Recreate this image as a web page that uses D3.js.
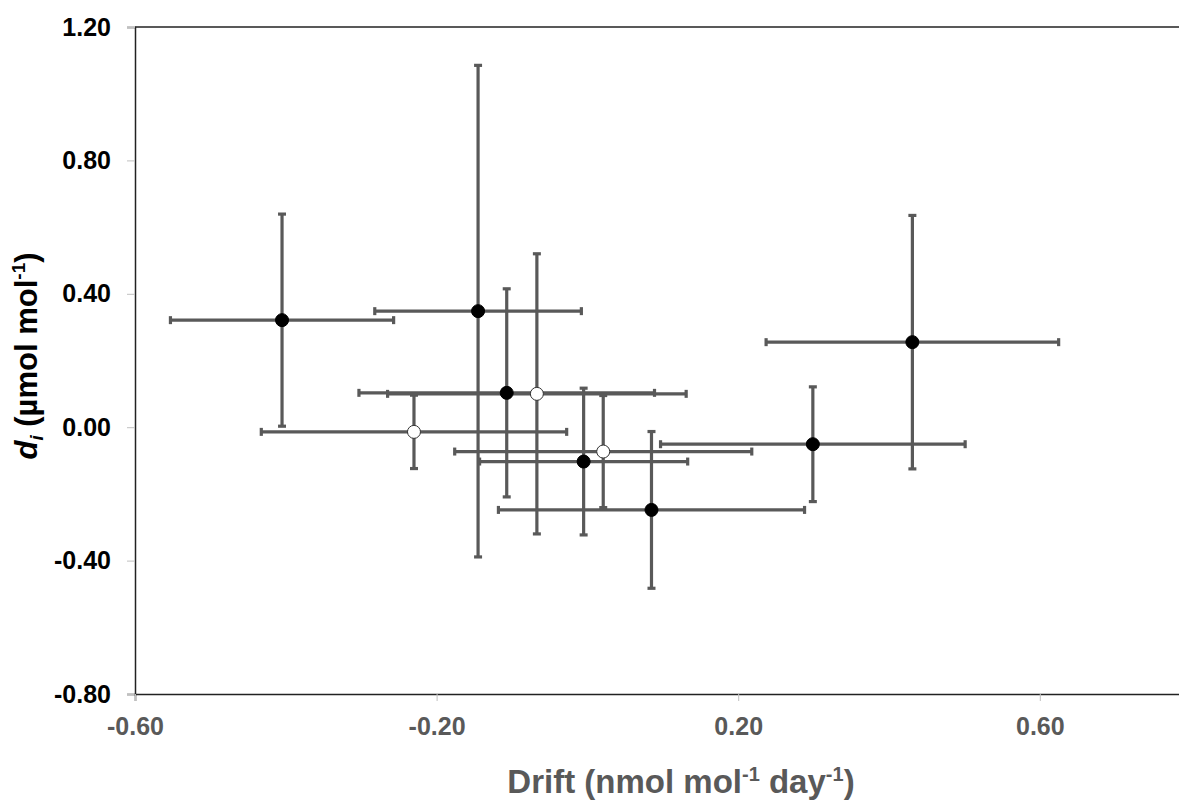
<!DOCTYPE html>
<html lang="en">
<head>
<meta charset="utf-8">
<style>
  body { margin: 0; background: #fff; }
  svg { display: block; font-family: "Liberation Sans", Arial, sans-serif; }
</style>
</head>
<body>
<script src="https://cdn.jsdelivr.net/npm/d3@7"></script>
<script>

// drift (x) and d_i (y) with their uncertainties
var filledDrift = [-0.405, -0.145, -0.107, -0.005, 0.085, 0.299, 0.431];
var filledDriftErr = [0.148, 0.137, 0.196, 0.138, 0.203, 0.202, 0.194];
var filledDi = [0.321, 0.348, 0.103, -0.103, -0.248, -0.051, 0.255];
var filledDiErr = [0.318, 0.737, 0.312, 0.220, 0.235, 0.172, 0.38];

var openDrift = [-0.230, -0.067, 0.021];
var openDriftErr = [0.2025, 0.198, 0.197];
var openDi = [-0.014, 0.100, -0.073];
var openDiErr = [0.110, 0.420, 0.168];

var xTicks = [-0.6, -0.2, 0.2, 0.6];
var yTicks = [-0.8, -0.4, 0.0, 0.4, 0.8, 1.2];

var W = 1179, H = 801;
var margin = {top: 27, left: 135, bottom: 107};

var svg = d3.select("body").append("svg")
  .attr("width", W)
  .attr("height", H);

var x = d3.scaleLinear().domain([-0.6, 0.8]).range([margin.left, margin.left + 1.4 * 754]);
var y = d3.scaleLinear().domain([-0.8, 1.2]).range([H - margin.bottom, margin.top]);

// plain hyphen for negatives, like the original
var fmt = function(d) { return d.toFixed(2); };

var points = [];
filledDrift.forEach(function(d, i) {
  points.push({x: d, xe: filledDriftErr[i], y: filledDi[i], ye: filledDiErr[i], open: false});
});
openDrift.forEach(function(d, i) {
  points.push({x: d, xe: openDriftErr[i], y: openDi[i], ye: openDiErr[i], open: true});
});

// axes
var yAxis = svg.append("g")
  .attr("transform", "translate(" + margin.left + ",0)")
  .call(d3.axisLeft(y).tickValues(yTicks).tickSize(8).tickPadding(16).tickFormat(fmt));
yAxis.select(".domain").attr("stroke", "#222").attr("stroke-width", 1.5);
yAxis.selectAll(".tick line").attr("stroke", "#c0c0c0");
yAxis.selectAll(".tick text")
  .attr("font-size", 25).attr("font-weight", "bold").attr("fill", "#000")
  .attr("font-family", "Liberation Sans, Arial, sans-serif");

var xAxis = svg.append("g")
  .attr("transform", "translate(0," + (H - margin.bottom) + ")")
  .call(d3.axisBottom(x).tickValues(xTicks).tickSize(7).tickPadding(16).tickFormat(fmt));
xAxis.select(".domain").attr("stroke", "#222").attr("stroke-width", 1.5);
xAxis.selectAll(".tick line").attr("stroke", "#c0c0c0");
xAxis.selectAll(".tick text")
  .attr("font-size", 25).attr("font-weight", "bold").attr("fill", "#595959")
  .attr("font-family", "Liberation Sans, Arial, sans-serif");

// top frame line
svg.append("line")
  .attr("x1", margin.left).attr("x2", x(0.8))
  .attr("y1", y(1.2)).attr("y2", y(1.2))
  .attr("stroke", "#222").attr("stroke-width", 1.5);

// error bars
var bars = svg.append("g")
  .attr("stroke", "#595959")
  .attr("stroke-width", 3.2);

var cap = 4;
points.forEach(function(p) {
  var g = bars.append("g");
  g.append("line")
    .attr("x1", x(p.x - p.xe)).attr("x2", x(p.x + p.xe))
    .attr("y1", y(p.y)).attr("y2", y(p.y));
  g.append("line")
    .attr("x1", x(p.x)).attr("x2", x(p.x))
    .attr("y1", y(p.y - p.ye)).attr("y2", y(p.y + p.ye));
  [p.x - p.xe, p.x + p.xe].forEach(function(v) {
    g.append("line")
      .attr("x1", x(v)).attr("x2", x(v))
      .attr("y1", y(p.y) - cap).attr("y2", y(p.y) + cap);
  });
  [p.y - p.ye, p.y + p.ye].forEach(function(v) {
    g.append("line")
      .attr("x1", x(p.x) - cap).attr("x2", x(p.x) + cap)
      .attr("y1", y(v)).attr("y2", y(v));
  });
});

// markers
svg.append("g").selectAll("circle")
  .data(points)
  .enter().append("circle")
  .attr("cx", function(d) { return x(d.x); })
  .attr("cy", function(d) { return y(d.y); })
  .attr("r", 6.5)
  .attr("fill", function(d) { return d.open ? "#fff" : "#000"; })
  .attr("stroke", function(d) { return d.open ? "#333" : "#000"; })
  .attr("stroke-width", 1);

// axis titles
var xt = svg.append("text")
  .attr("x", 681).attr("y", 793)
  .attr("text-anchor", "middle")
  .attr("font-size", 33).attr("font-weight", "bold").attr("fill", "#595959");
xt.append("tspan").text("Drift (nmol mol");
xt.append("tspan").attr("font-size", 20).attr("dy", -12).text("-1");
xt.append("tspan").attr("dy", 12).text(" day");
xt.append("tspan").attr("font-size", 20).attr("dy", -12).text("-1");
xt.append("tspan").attr("dy", 12).text(")");

var yt = svg.append("text")
  .attr("transform", "translate(37,356) rotate(-90)")
  .attr("text-anchor", "middle")
  .attr("font-size", 31).attr("font-weight", "bold").attr("fill", "#000");
yt.append("tspan").attr("font-style", "italic").text("d");
yt.append("tspan").attr("font-style", "italic").attr("font-size", 19).attr("dy", 6).text("i");
yt.append("tspan").attr("dy", -6).text(" (µmol mol");
yt.append("tspan").attr("font-size", 19).attr("dy", -12).text("-1");
yt.append("tspan").attr("dy", 12).text(")");

</script>
</body>
</html>
